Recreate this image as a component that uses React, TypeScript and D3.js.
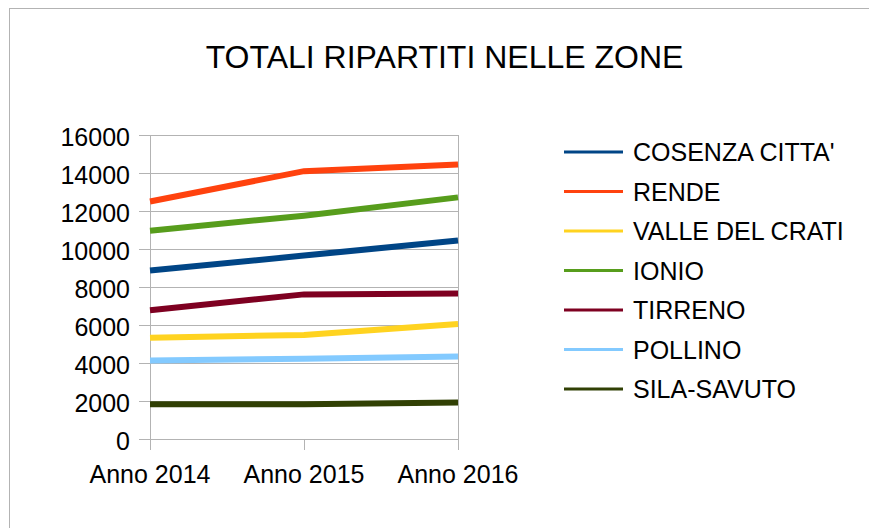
import * as d3 from 'd3'
import { useEffect, useRef } from 'react'

const years = ['Anno 2014', 'Anno 2015', 'Anno 2016']
const zones = ['COSENZA CITTA\'', 'RENDE', 'VALLE DEL CRATI', 'IONIO', 'TIRRENO', 'POLLINO', 'SILA-SAVUTO']
const colors = ['#004586', '#ff420e', '#ffd320', '#579d1c', '#7e0021', '#83caff', '#314004']

const cosenza = [8870, 9660, 10450]
const rende = [12500, 14100, 14450]
const valle = [5340, 5490, 6060]
const ionio = [10970, 11760, 12720]
const tirreno = [6780, 7620, 7660]
const pollino = [4140, 4240, 4350]
const sila = [1840, 1840, 1930]
const yTicks = [0, 2000, 4000, 6000, 8000, 10000, 12000, 14000, 16000]

const series = [cosenza, rende, valle, ionio, tirreno, pollino, sila]

export default function App() {
  const svgRef = useRef<SVGSVGElement>(null)

  useEffect(() => {
    if (!svgRef.current) return
    const svg = d3.select(svgRef.current)
    svg.selectAll('*').remove()
    const font = '"Liberation Sans", Arial, sans-serif'
    const grid = '#b3b3b3'

    // outer frame (cut off on right and bottom)
    svg.append('rect')
      .attr('x', 9.5).attr('y', 8.5).attr('width', 1000).attr('height', 1000)
      .attr('fill', '#fff').attr('stroke', grid)

    svg.append('text')
      .attr('x', 444.5).attr('y', 68)
      .attr('text-anchor', 'middle')
      .attr('font-family', font).attr('font-size', 32)
      .text('TOTALI RIPARTITI NELLE ZONE')

    const x = d3.scalePoint().domain(years).range([150, 458])
    const y = d3.scaleLinear().domain([0, 16000]).range([439.3, 135])

    const g = svg.append('g')
    yTicks.forEach((t) => {
      const yy = Math.round(y(t)) + 0.5
      g.append('line').attr('x1', 139).attr('x2', 458).attr('y1', yy).attr('y2', yy).attr('stroke', grid)
      g.append('text')
        .attr('x', 130).attr('y', y(t) + 11)
        .attr('text-anchor', 'end')
        .attr('font-family', font).attr('font-size', 25)
        .text(t)
    })
    years.forEach((c, i) => {
      const xx = Math.round(x(c)!) + 0.5
      g.append('line')
        .attr('x1', xx).attr('x2', xx)
        .attr('y1', i === 1 ? y(0) : y(16000)).attr('y2', 450)
        .attr('stroke', grid)
      g.append('text')
        .attr('x', x(c)!).attr('y', y(0) + 44)
        .attr('text-anchor', 'middle')
        .attr('font-family', font).attr('font-size', 25)
        .text(c)
    })

    const line = d3.line<number>().x((_, i) => x(years[i])!).y((d) => y(d))
    series.forEach((s, i) => {
      g.append('path').datum(s)
        .attr('fill', 'none').attr('stroke', colors[i]).attr('stroke-width', 6)
        .attr('d', line)
    })

    const leg = svg.append('g')
    zones.forEach((z, i) => {
      const cy = 152 + i * 39.5
      leg.append('line').attr('x1', 564).attr('x2', 623).attr('y1', cy).attr('y2', cy)
        .attr('stroke', colors[i]).attr('stroke-width', 3)
      leg.append('text')
        .attr('x', 633).attr('y', cy + 9)
        .attr('font-family', font).attr('font-size', 25)
        .text(z)
    })
  }, [])

  return (
    <svg
      ref={svgRef}
      width={869}
      height={528}
      style={{ position: 'absolute', left: 0, top: 0, background: '#fff' }}
    />
  )
}
